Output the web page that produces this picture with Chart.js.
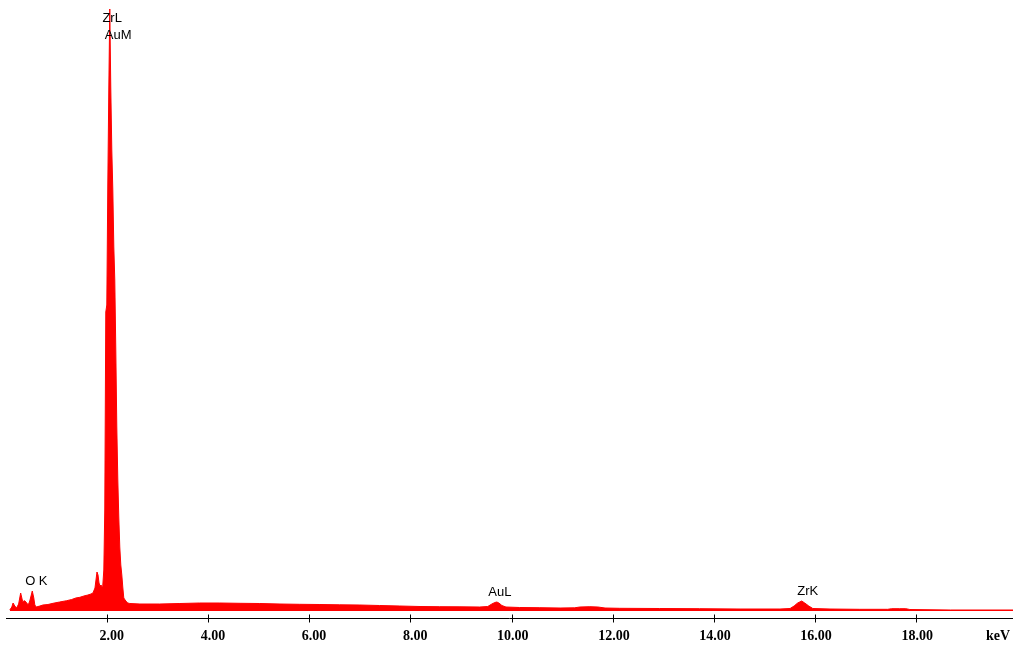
<!DOCTYPE html>
<html>
<head>
<meta charset="utf-8">
<script src="https://cdn.jsdelivr.net/npm/chart.js@4/dist/chart.umd.min.js"></script>
<style>
  html, body { margin: 0; padding: 0; background: #fff; }
  #wrap { width: 1013px; height: 646px; position: relative; }
</style>
</head>
<body>
<div id="wrap"><canvas id="spectrum"></canvas></div>
<script>
// EDS spectrum (counts are relative)
const energyKeV = [
  0.075, 0.115, 0.14, 0.174, 0.21, 0.25, 0.29, 0.33, 0.37, 0.41, 0.44, 0.47, 0.52, 0.55, 0.57, 0.60,
  0.67, 0.73, 0.83, 0.93, 1.06, 1.20, 1.30, 1.38, 1.46, 1.54, 1.62, 1.68, 1.72, 1.76, 1.78, 1.80,
  1.82, 1.84, 1.86, 1.88, 1.90, 1.915, 1.935, 1.954, 1.974, 1.994, 2.014, 2.034, 2.053, 2.073, 2.093,
  2.113, 2.133, 2.152, 2.172, 2.192, 2.212, 2.231, 2.251, 2.271, 2.291, 2.31, 2.33, 2.37, 2.41,
  2.45, 2.65, 3.04, 3.44, 3.83, 4.23, 4.63, 5.02, 5.42, 5.81, 6.21, 6.60, 7.00, 7.39, 7.79, 8.19,
  8.58, 8.98, 9.37, 9.53, 9.61, 9.67, 9.71, 9.75, 9.81, 9.89, 10.16, 10.56, 10.96, 11.25, 11.35,
  11.55, 11.71, 11.85, 12.14, 12.93, 13.72, 14.52, 15.31, 15.51, 15.59, 15.66, 15.74, 15.80, 15.88,
  15.96, 16.30, 16.89, 17.44, 17.52, 17.68, 17.80, 17.88, 18.68, 19.92
];
const counts = [
  10, 40, 80, 50, 30, 70, 180, 93, 103, 80, 60, 100, 200, 130, 60, 40,
  50, 60, 65, 77, 90, 103, 115, 130, 137, 150, 160, 170, 180, 230, 310, 390,
  360, 280, 250, 260, 240, 260, 410, 1010, 2990, 3060, 4260, 5230, 6020, 5230, 4610,
  4210, 3640, 3310, 2610, 1840, 1310, 940, 640, 460, 360, 240, 130, 100, 80,
  75, 70, 70, 75, 80, 80, 77, 75, 70, 67, 65, 62, 60, 55, 50, 45,
  43, 42, 40, 45, 70, 85, 90, 80, 55, 40, 35, 33, 30, 32, 40,
  43, 40, 30, 27, 25, 23, 20, 20, 25, 50, 80, 100, 80, 50,
  25, 20, 17, 17, 23, 23, 23, 15, 10, 10
];

// axis ticks
const tickValues = [2, 4, 6, 8, 10, 12, 14, 16, 18];
const unitLabel = 'keV';

// peak identification labels
const peakNames = ['O K', 'ZrL', 'AuM', 'AuL', 'ZrK'];
const peakKeV = [0.60, 2.10, 2.22, 9.77, 15.86];
const peakCounts = [300, 5930, 5760, 190, 195];

const spectrumAxis = {
  id: 'spectrumAxis',
  afterDatasetsDraw(chart) {
    const { ctx, chartArea, scales: { x, y } } = chart;
    const base = chartArea.bottom + 0.5;
    ctx.save();
    ctx.strokeStyle = '#000';
    ctx.lineWidth = 1;
    ctx.beginPath();
    ctx.moveTo(chartArea.left, base);
    ctx.lineTo(chartArea.right, base);
    tickValues.forEach(v => {
      const px = Math.round(x.getPixelForValue(v)) + 0.5;
      ctx.moveTo(px, base - 4);
      ctx.lineTo(px, base + 4);
    });
    ctx.stroke();

    ctx.fillStyle = '#000';
    ctx.font = 'bold 14px "Liberation Serif"';
    ctx.textAlign = 'right';
    ctx.textBaseline = 'alphabetic';
    tickValues.forEach(v => {
      ctx.fillText(v.toFixed(2), x.getPixelForValue(v) + 17, chartArea.bottom + 22);
    });
    ctx.fillText(unitLabel, chartArea.right - 3, chartArea.bottom + 22);

    ctx.font = '13px "Liberation Sans"';
    ctx.textAlign = 'center';
    ctx.textBaseline = 'middle';
    peakNames.forEach((name, i) => {
      ctx.fillText(name, x.getPixelForValue(peakKeV[i]), y.getPixelForValue(peakCounts[i]));
    });
    ctx.restore();
  }
};

const points = energyKeV.map((e, i) => ({ x: e, y: counts[i] }));

new Chart(document.getElementById('spectrum'), {
  type: 'line',
  data: {
    datasets: [{
      data: points,
      borderColor: '#ff0000',
      backgroundColor: '#ff0000',
      borderWidth: 1,
      pointRadius: 0,
      tension: 0,
      fill: 'origin'
    }]
  },
  options: {
    responsive: true,
    maintainAspectRatio: false,
    devicePixelRatio: 1,
    animation: false,
    layout: { padding: { left: 6, right: 0, top: 0, bottom: 28 } },
    plugins: { legend: { display: false }, tooltip: { enabled: false } },
    scales: {
      x: { type: 'linear', min: 0, max: 19.92, display: false },
      y: { min: -70, max: 6110, display: false }
    }
  },
  plugins: [spectrumAxis]
});
</script>
</body>
</html>
